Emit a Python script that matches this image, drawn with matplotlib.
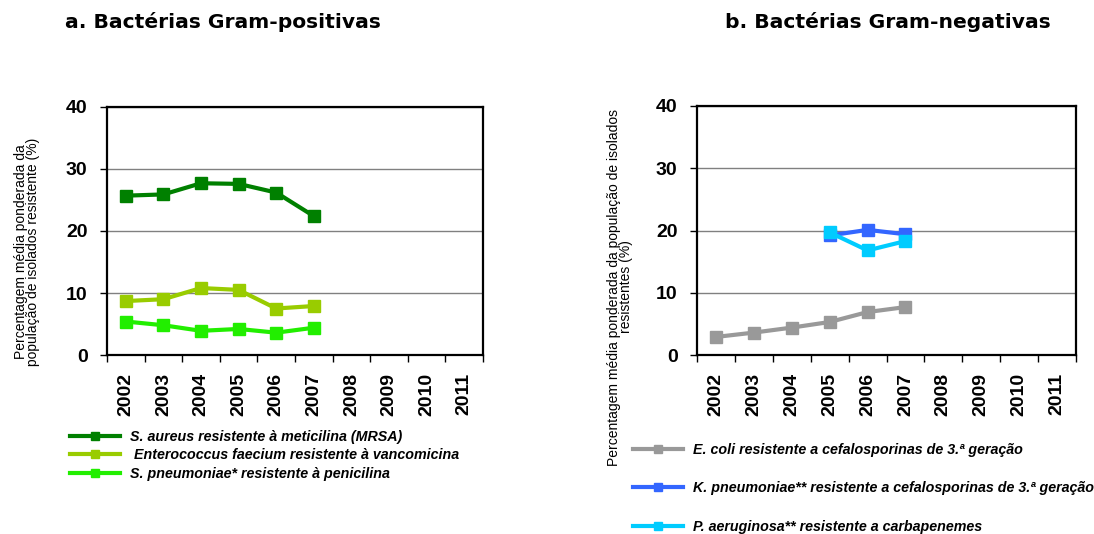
import matplotlib
matplotlib.use('Agg')
import matplotlib.pyplot as plt

plt.rcParams['font.family'] = ['Liberation Sans', 'DejaVu Sans']

years = ['2002', '2003', '2004', '2005', '2006', '2007', '2008', '2009', '2010', '2011']

# a. Gram-positive
mrsa = [25.7, 25.9, 27.7, 27.6, 26.2, 22.4]
enterococcus = [8.7, 9.0, 10.8, 10.5, 7.5, 7.9]
pneumoniae = [5.4, 4.8, 3.9, 4.2, 3.6, 4.4]

# b. Gram-negative
ecoli = [2.9, 3.6, 4.4, 5.3, 6.9, 7.7]
kpneu_years = ['2005', '2006', '2007']
kpneumoniae = [19.2, 20.1, 19.4]
paeru_years = ['2005', '2006', '2007']
paeruginosa = [19.7, 16.8, 18.3]

W, H = 1094, 534
fig = plt.figure(figsize=(W / 100, H / 100), dpi=100)


def px_axes(x0, y0, x1, y1):
    return fig.add_axes([x0 / W, (H - y1) / H, (x1 - x0) / W, (y1 - y0) / H])


def style_axes(ax):
    ax.set_xlim(-0.5, len(years) - 0.5)
    ax.set_ylim(0, 40)
    ax.set_yticks([0, 10, 20, 30, 40])
    ax.yaxis.grid(True, color='#808080', linewidth=1)
    ax.set_axisbelow(True)
    ax.set_xticks([i - 0.5 for i in range(len(years) + 1)])
    ax.set_xticklabels([])
    ax.set_xticks(range(len(years)), minor=True)
    ax.set_xticklabels(years, minor=True, rotation=90, fontsize=14, fontweight='bold')
    ax.tick_params(axis='x', which='major', direction='out', length=5, width=1)
    ax.tick_params(axis='x', which='minor', length=0, pad=13)
    ax.tick_params(axis='y', direction='out', length=5, width=1, labelsize=14, pad=9)
    for lab in ax.get_yticklabels():
        lab.set_fontweight('bold')
    for s in ax.spines.values():
        s.set_linewidth(1.6)
        s.set_color('black')


def xs(labels):
    return [years.index(y) for y in labels]


kw = dict(marker='s', markersize=9, linewidth=3, clip_on=False)

ax1 = px_axes(107, 107, 483, 355)
style_axes(ax1)
l1, = ax1.plot(xs(years[:6]), mrsa, color='#008000', **kw)
l2, = ax1.plot(xs(years[:6]), enterococcus, color='#99cc00', **kw)
l3, = ax1.plot(xs(years[:6]), pneumoniae, color='#22ee00', **kw)

ax2 = px_axes(697, 106, 1076, 355)
style_axes(ax2)
r1, = ax2.plot(xs(years[:6]), ecoli, color='#999999', **kw)
r2, = ax2.plot(xs(kpneu_years), kpneumoniae, color='#3366ff', **kw)
r3, = ax2.plot(xs(paeru_years), paeruginosa, color='#00ccff', **kw)

title_font = dict(family='DejaVu Sans', fontsize=14.6, fontweight='bold', va='center')
fig.text(65 / W, 1 - 22 / H, 'a. Bactérias Gram-positivas', ha='left', **title_font)
fig.text(888 / W, 1 - 22 / H, 'b. Bactérias Gram-negativas', ha='center', **title_font)

fig.text(27 / W, 1 - 252 / H,
         'Percentagem média ponderada da\npopulação de isolados resistente (%)',
         rotation=90, ha='center', va='center', fontsize=10,
         multialignment='center', linespacing=0.85)
fig.text(620 / W, 1 - 287 / H,
         'Percentagem média ponderada da população de isolados\nresistentes (%)',
         rotation=90, ha='center', va='center', fontsize=10,
         multialignment='center', linespacing=0.85)

leg_font = dict(size=10.3, weight='bold', style='italic')
fig.legend([l1, l2, l3],
           ['S. aureus resistente à meticilina (MRSA)',
            ' Enterococcus faecium resistente à vancomicina',
            'S. pneumoniae* resistente à penicilina'],
           loc='upper left', bbox_to_anchor=(70 / W, 1 - 430 / H),
           frameon=False, prop=leg_font, handlelength=3.5, handletextpad=0.7,
           labelspacing=0.3, borderpad=0, borderaxespad=0, markerscale=0.7)
fig.legend([r1, r2, r3],
           ['E. coli resistente a cefalosporinas de 3.ª geração',
            'K. pneumoniae** resistente a cefalosporinas de 3.ª geração',
            'P. aeruginosa** resistente a carbapenemes'],
           loc='upper left', bbox_to_anchor=(633 / W, 1 - 443 / H),
           frameon=False, prop=leg_font, handlelength=3.5, handletextpad=0.7,
           labelspacing=1.7, borderpad=0, borderaxespad=0, markerscale=0.7)

fig.savefig('out.png', dpi=100)
